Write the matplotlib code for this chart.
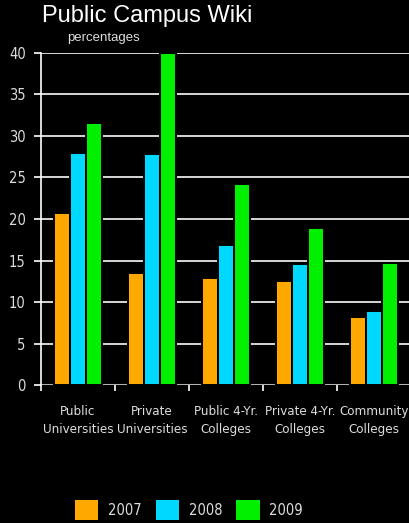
import numpy as np
import matplotlib
matplotlib.use("Agg")
import matplotlib.pyplot as plt
from matplotlib import font_manager
from matplotlib.font_manager import FontProperties
from matplotlib.patches import Patch

categories = ["Public\nUniversities", "Private\nUniversities", "Public 4-Yr.\nColleges",
              "Private 4-Yr.\nColleges", "Community\nColleges"]
years = ["2007", "2008", "2009"]
v2007 = [20.7, 13.5, 12.9, 12.5, 8.2]
v2008 = [27.9, 27.8, 16.9, 14.6, 8.9]
v2009 = [31.5, 40.0, 24.2, 18.9, 14.7]
colors = ["#FFA800", "#00D8FF", "#00F000"]

# narrow font for the labels, if there is one
files = font_manager.findSystemFonts() + [f.fname for f in font_manager.fontManager.ttflist]
path = None
for want in ["LiberationSansNarrow-Regular.ttf", "DejaVuSansCondensed.ttf"]:
    hits = [f for f in files if f.endswith(want)]
    if hits:
        path = hits[0]
        break
if path:
    tick_font = FontProperties(fname=path, size=10.5)
    cat_font = FontProperties(fname=path, size=9.5)
else:
    tick_font = FontProperties(family="Liberation Sans", size=10)
    cat_font = FontProperties(family="Liberation Sans", size=9)

W, H = 409, 523
fig = plt.figure(figsize=(W / 100, H / 100), dpi=100, facecolor="black")
ax = fig.add_axes([41 / W, (H - 385.3) / H, 368 / W, 332.6 / H], facecolor="black")

x = np.arange(len(categories)) + 0.5
w = 0.22
for i, (vals, c) in enumerate(zip([v2007, v2008, v2009], colors)):
    ax.bar(x + (i - 1) * w, vals, w, color=c, edgecolor="black", linewidth=1.4,
           zorder=3)

ax.set_xlim(0, 368 / 74)
ax.set_ylim(0, 40)
ax.set_yticks(range(0, 41, 5))
ax.yaxis.grid(True, color="#E8E8E8", linewidth=1.3, zorder=1)
ax.axhline(0, color="#B0B0B0", linewidth=2.2, zorder=2)
ax.set_axisbelow(True)
for s in ["top", "right", "bottom"]:
    ax.spines[s].set_visible(False)
ax.spines["left"].set_color("white")
ax.spines["left"].set_linewidth(1.2)

ax.set_xticks(x)
ax.set_xticklabels(categories, color="#DDDDDD", fontproperties=cat_font,
                   linespacing=1.55)
ax.tick_params(axis="x", length=0, pad=14)
ax.set_xticks(np.arange(0, 5), minor=True)
ax.tick_params(axis="x", which="minor", length=4, color="white", width=1.2,
               direction="out")
ax.tick_params(axis="y", length=5, color="white", width=1.2,
               labelcolor="#DDDDDD", pad=6)
for t in ax.get_yticklabels():
    t.set_fontproperties(tick_font)

fig.text(42 / W, 1 - 5 / H, "Public Campus Wiki", color="white", fontsize=17,
         family=["Liberation Sans", "DejaVu Sans"], va="top", ha="left")
fig.text(67 / W, 1 - 38 / H, "percentages", color="#DDDDDD", fontsize=9.5,
         family=["Liberation Sans", "DejaVu Sans"], va="center", ha="left")

handles = [Patch(facecolor=c, edgecolor="none") for c in colors]
leg = fig.legend(handles, years, loc="lower center",
                 bbox_to_anchor=(189 / W, -4 / H), ncol=3,
                 frameon=False, handlelength=1.6, handleheight=1.65,
                 handletextpad=0.68, columnspacing=0.95, borderpad=0.0,
                 prop=tick_font)
for t in leg.get_texts():
    t.set_color("#DDDDDD")

fig.savefig("out.png", dpi=100, facecolor="black")
